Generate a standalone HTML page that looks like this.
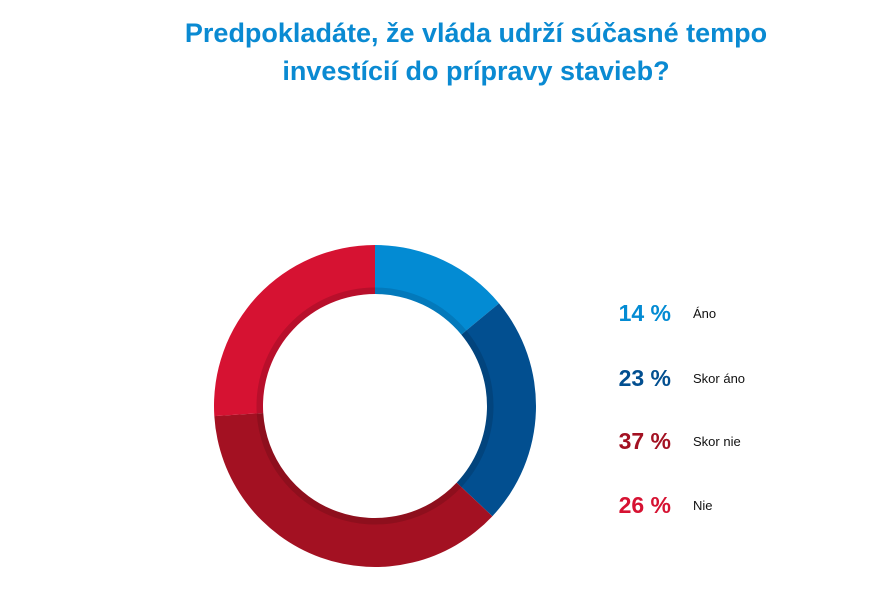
<!DOCTYPE html>
<html><head><meta charset="utf-8"><style>
body{margin:0;background:#fff;width:890px;height:598px;overflow:hidden;font-family:"Liberation Sans",sans-serif;}
#title{position:absolute;left:60px;width:832px;top:14px;text-align:center;color:#0a8ad2;font-weight:bold;font-size:27px;line-height:38px;}
</style></head><body>
<div id="title">Predpokladáte, že vláda udrží súčasné tempo<br>investícií do prípravy stavieb?</div>
<svg id="chart" width="890" height="598" style="position:absolute;left:0;top:0"></svg>
<script>
const categories=["Áno","Skor áno","Skor nie","Nie"];
const values=[14,23,37,26];
const labels=["14 %","23 %","37 %","26 %"];
const colors=["#038bd3","#024f90","#a31122","#d61232"];
const shades=["#0379bb","#02447d","#8e0f1d","#b80f2b"];
const svg=document.getElementById('chart');
const NS="http://www.w3.org/2000/svg";
const cx=375,cy=406,R=161,Rm=118,Ri=112;
const total=values.reduce((a,b)=>a+b,0);
function pt(r,a){return [cx+r*Math.sin(a),cy-r*Math.cos(a)];}
function arc(r1,r2,a0,a1){const l=(a1-a0)>Math.PI?1:0;const p0=pt(r2,a0),p1=pt(r2,a1),p2=pt(r1,a1),p3=pt(r1,a0);
return `M${p0}A${r2},${r2} 0 ${l} 1 ${p1}L${p2}A${r1},${r1} 0 ${l} 0 ${p3}Z`;}
let a=0;
values.forEach((v,i)=>{
 const a1=a+v/total*2*Math.PI;
 const p=document.createElementNS(NS,'path');
 p.setAttribute('d',arc(Rm,R,a,a1));p.setAttribute('fill',colors[i]);
 
 
 svg.appendChild(p);
 const s=document.createElementNS(NS,'path');
 s.setAttribute('d',arc(Ri,Rm+0.5,a,a1));s.setAttribute('fill',shades[i]);
 
 
 svg.appendChild(s);
 a=a1;
 const y=[313,378,441,505][i];
 const t=document.createElementNS(NS,'text');
 t.setAttribute('x',671);t.setAttribute('y',y+8);t.setAttribute('text-anchor','end');
 t.setAttribute('font-size','23');t.setAttribute('font-weight','bold');t.setAttribute('fill',colors[i]);
 t.setAttribute('font-family','Liberation Sans, sans-serif');
 t.textContent=labels[i];
 
 
 svg.appendChild(t);
 const l=document.createElementNS(NS,'text');
 l.setAttribute('x',693);l.setAttribute('y',y+5);l.setAttribute('font-size','13');l.setAttribute('fill','#111');
 l.setAttribute('font-family','Liberation Sans, sans-serif');
 l.textContent=categories[i];
 
 
 svg.appendChild(l);
});
</script>
</body></html>
